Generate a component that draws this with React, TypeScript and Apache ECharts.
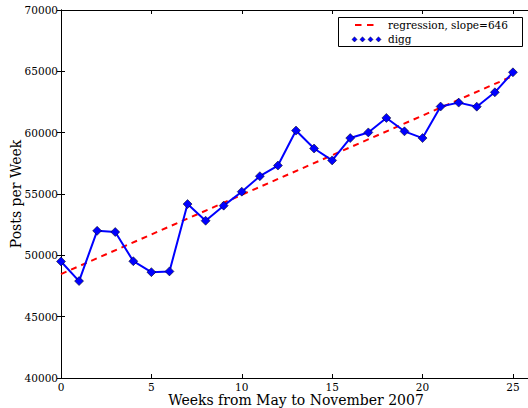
import React, { useEffect, useRef } from "react";
import * as echarts from "echarts";

const weeks = [0, 1, 2, 3, 4, 5, 6, 7, 8, 9, 10, 11, 12, 13, 14, 15, 16, 17, 18, 19, 20, 21, 22, 23, 24, 25];
const diggPosts = [
  49500, 47900, 52000, 51900, 49520, 48630, 48690, 54180, 52820, 54050, 55190, 56450, 57320,
  60170, 58710, 57740, 59560, 60020, 61200, 60110, 59560, 62130, 62450, 62120, 63290, 64920,
];
const regressionX = [0, 25];
const regressionY = [48470, 64620];
const regressionLabel = "regression, slope=646";
const seriesLabel = "digg";
const xTitle = "Weeks from May to November 2007";
const yTitle = "Posts per Week";

const FONT = "DejaVu Serif";
const LEGEND_FONT = "10.5px 'DejaVu Serif'";

export default function App() {
  const ref = useRef<HTMLDivElement>(null);
  useEffect(() => {
    if (!ref.current) return;
    const chart = echarts.init(ref.current, undefined, { renderer: "svg" });
    const tickStyle = { show: true, inside: true, length: 4, lineStyle: { color: "#000", width: 1 } };
    const axisLine = { show: true, lineStyle: { color: "#000", width: 1 } };
    chart.setOption({
      animation: false,
      backgroundColor: "#fff",
      grid: { left: 61, right: -3, top: 10, bottom: 30, containLabel: false, outerBoundsMode: "none" },
      xAxis: [
        {
          type: "value",
          min: 0,
          max: 26,
          interval: 5,
          position: "bottom",
          name: xTitle,
          nameLocation: "middle",
          nameGap: 15,
          nameMoveOverlap: false,
          nameTextStyle: { fontFamily: FONT, fontSize: 14, lineHeight: 14, color: "#000" },
          axisLine,
          axisTick: tickStyle,
          splitLine: { show: false },
          axisLabel: {
            fontFamily: FONT,
            fontSize: 10.5,
            lineHeight: 11,
            color: "#000",
            margin: 3,
            showMaxLabel: false,
            formatter: (v: number) => (v % 5 === 0 ? String(v) : ""),
          },
        },
        {
          type: "value",
          min: 0,
          max: 26,
          interval: 5,
          position: "top",
          axisLine,
          axisTick: tickStyle,
          splitLine: { show: false },
          axisLabel: { show: false },
        },
      ],
      yAxis: [
        {
          type: "value",
          min: 40000,
          max: 70000,
          interval: 5000,
          position: "left",
          name: yTitle,
          nameLocation: "middle",
          nameGap: 38,
          nameMoveOverlap: false,
          nameTextStyle: { fontFamily: FONT, fontSize: 14, color: "#000" },
          axisLine,
          axisTick: tickStyle,
          splitLine: { show: false },
          axisLabel: {
            fontFamily: FONT,
            fontSize: 10.5,
            color: "#000",
            margin: 3,
            formatter: (v: number) => String(v),
          },
        },
        {
          type: "value",
          min: 40000,
          max: 70000,
          interval: 5000,
          position: "right",
          axisLine,
          axisTick: tickStyle,
          splitLine: { show: false },
          axisLabel: { show: false },
        },
      ],
      series: [
        {
          name: regressionLabel,
          type: "line",
          data: regressionX.map((x, i) => [x, regressionY[i]]),
          symbol: "none",
          lineStyle: { color: "#ff0000", width: 2, type: [6, 5] },
          z: 3,
        },
        {
          name: seriesLabel,
          type: "line",
          data: weeks.map((w, i) => [w, diggPosts[i]]),
          symbol: "diamond",
          symbolSize: 9,
          showAllSymbol: true,
          lineStyle: { color: "#0000ff", width: 2 },
          itemStyle: { color: "#0000ff", borderColor: "#000", borderWidth: 0.5 },
          z: 4,
        },
      ],
      graphic: [
        {
          type: "group",
          z: 100,
          children: [
            {
              type: "rect",
              shape: { x: 338.5, y: 17.5, width: 184, height: 29 },
              style: { fill: "#fff", stroke: "#000", lineWidth: 1 },
            },
            { type: "line", shape: { x1: 355, y1: 25, x2: 361.5, y2: 25 }, style: { stroke: "#ff0000", lineWidth: 2 } },
            { type: "line", shape: { x1: 367, y1: 25, x2: 373.5, y2: 25 }, style: { stroke: "#ff0000", lineWidth: 2 } },
            {
              type: "text",
              x: 388,
              y: 25,
              style: { text: regressionLabel, font: LEGEND_FONT, fill: "#000", verticalAlign: "middle" },
            },
            ...[354.5, 362.5, 370.5, 378.5].map((cx) => ({
              type: "polygon",
              shape: { points: [[cx, 36.8], [cx + 2.6, 39.4], [cx, 42], [cx - 2.6, 39.4]] },
              style: { fill: "#0000ff", stroke: "#000", lineWidth: 0.4 },
            })),
            {
              type: "text",
              x: 388,
              y: 39,
              style: { text: seriesLabel, font: LEGEND_FONT, fill: "#000", verticalAlign: "middle" },
            },
          ],
        },
      ],
    });
    return () => chart.dispose();
  }, []);
  return (
    <div style={{ position: "fixed", left: 0, top: 0, width: 528, height: 408, overflow: "hidden", background: "#fff" }}>
      <div ref={ref} style={{ width: 528, height: 408 }} />
    </div>
  );
}
